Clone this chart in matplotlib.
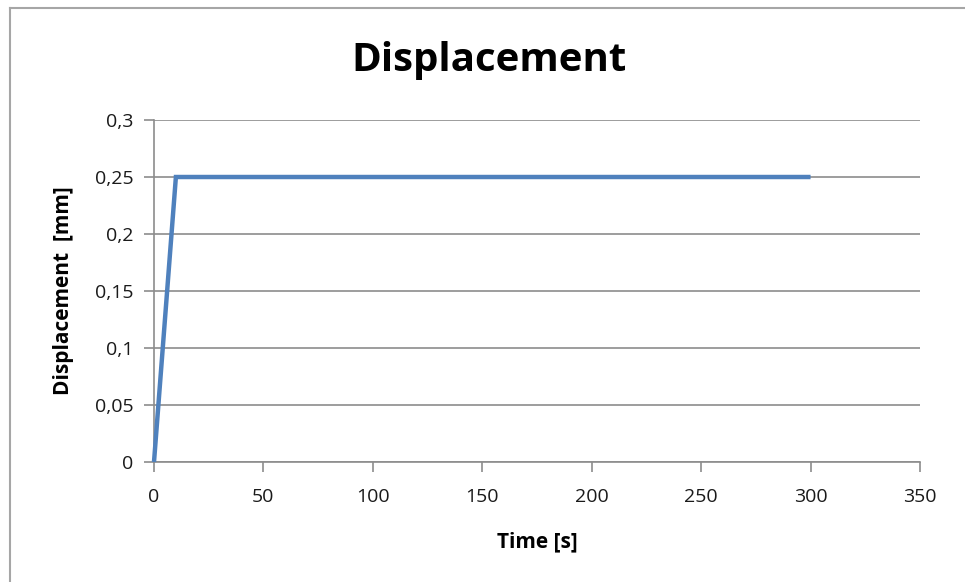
import matplotlib
matplotlib.use("Agg")
import matplotlib.pyplot as plt
from matplotlib.ticker import FuncFormatter
from matplotlib.lines import Line2D

# data
time_s = [0, 10, 300]
displacement_mm = [0, 0.25, 0.25]
x_ticks = [0, 50, 100, 150, 200, 250, 300, 350]
y_ticks = [0, 0.05, 0.1, 0.15, 0.2, 0.25, 0.3]

FONT = "Open Sans"
GRID = "#8c8c8c"
LINE = "#4f81bd"

fig = plt.figure(figsize=(9.65, 5.82), dpi=100)
ax = fig.add_axes([154 / 965, 1 - 462 / 582, (920 - 154) / 965, (462 - 120) / 582])

ax.plot(time_s, displacement_mm, color=LINE, lw=3.2, solid_capstyle="butt",
        solid_joinstyle="miter", clip_on=False, zorder=3)

ax.set_xlim(0, 350)
ax.set_ylim(0, 0.3)
ax.set_xticks(x_ticks)
ax.set_yticks(y_ticks)

comma = FuncFormatter(lambda v, _: f"{v:g}".replace(".", ","))
ax.xaxis.set_major_formatter(comma)
ax.yaxis.set_major_formatter(comma)

ax.grid(axis="y", color=GRID, lw=1.2)
ax.set_axisbelow(True)
for side in ("top", "right"):
    ax.spines[side].set_visible(False)
for side in ("left", "bottom"):
    ax.spines[side].set_color(GRID)
    ax.spines[side].set_linewidth(1.2)

ax.tick_params(axis="both", direction="out", length=7, width=1.2, color=GRID,
               labelsize=14, labelcolor="#1a1a1a")
ax.tick_params(axis="y", pad=8)
ax.tick_params(axis="x", pad=12)
for lab in ax.get_xticklabels() + ax.get_yticklabels():
    lab.set_family(FONT)

ax.set_xlabel("Time [s]", family=FONT, fontweight="bold", fontsize=15, labelpad=18)
ax.set_ylabel("Displacement  [mm]", family=FONT, fontweight="bold", fontsize=15, labelpad=15)

fig.text(489 / 965, 1 - 60 / 582, "Displacement", family=FONT, fontweight="bold",
         fontsize=29, ha="center", va="center")

# chart frame, only the top and left edges are inside the screenshot
fig.add_artist(Line2D([10 / 965, 10 / 965], [0, 1 - 8 / 582], transform=fig.transFigure,
                      color="#a6a6a6", lw=1.5))
fig.add_artist(Line2D([10 / 965, 1], [1 - 8 / 582, 1 - 8 / 582], transform=fig.transFigure,
                      color="#a6a6a6", lw=1.5))

fig.savefig("out.png", dpi=100)
